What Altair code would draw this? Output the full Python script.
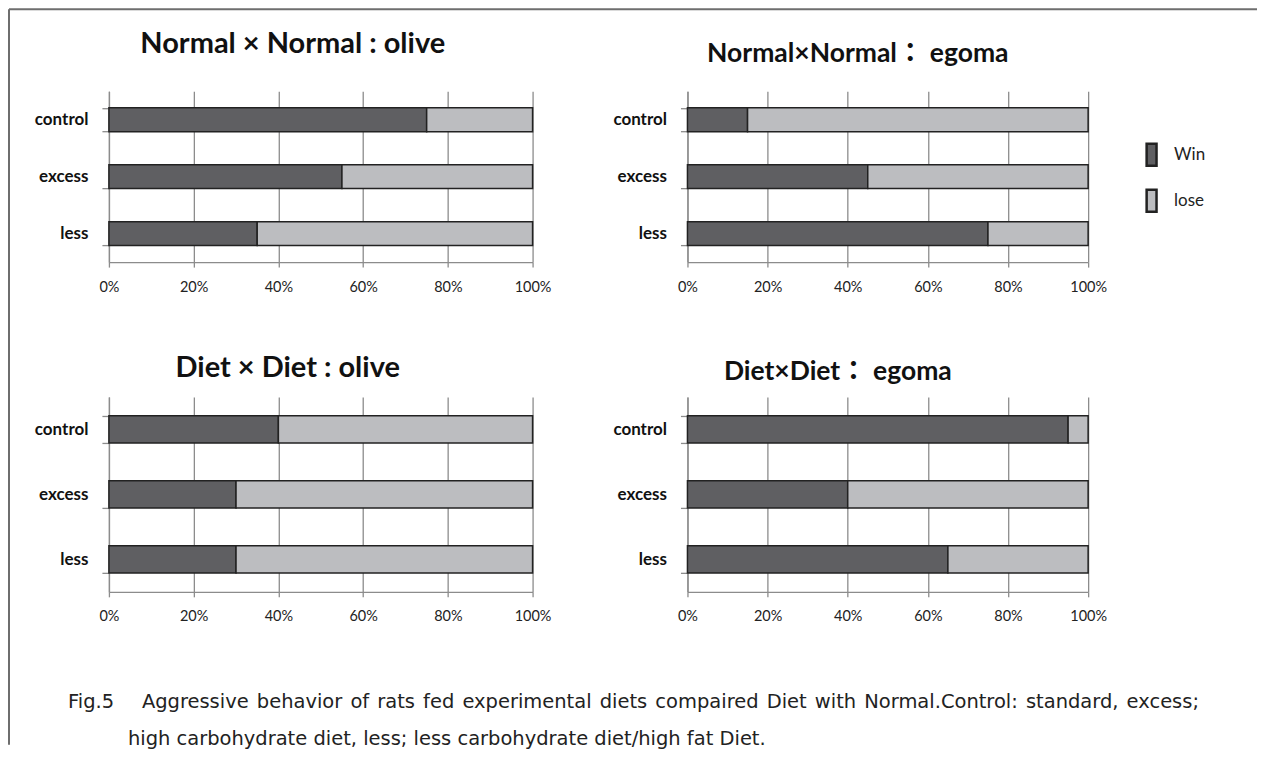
import altair as alt
import pandas as pd

# ---------------- data ----------------
groups = ["control", "excess", "less"]
outcomes = ["Win", "lose"]

nn_olive_win = [75, 55, 35]
nn_olive_lose = [25, 45, 65]
nn_egoma_win = [15, 45, 75]
nn_egoma_lose = [85, 55, 25]
dd_olive_win = [40, 30, 30]
dd_olive_lose = [60, 70, 70]
dd_egoma_win = [95, 40, 65]
dd_egoma_lose = [5, 60, 35]

panel_titles = [
    "Normal × Normal : olive",
    "Normal×Normal：  egoma",
    "Diet × Diet : olive",
    "Diet×Diet：  egoma",
]
tick_values = [0, 20, 40, 60, 80, 100]

caption_fig = "Fig.5"
caption_line1 = ("Aggressive behavior of rats fed experimental diets compaired Diet "
                 "with Normal.Control: standard, excess;")
caption_line2 = "high carbohydrate diet, less; less carbohydrate diet/high fat Diet."

# ---------------- style ----------------
WIN_COLOR = "#5f5f62"
LOSE_COLOR = "#bcbdc0"
GRID = "#8c8c8c"
BOLD = "Lato, 'Noto Sans CJK JP', sans-serif"
REG = "Lato, sans-serif"
CAP_FONT = "'DejaVu Sans', sans-serif"
CAP_SIZE = 19.5


def frame(win, lose):
    rows = []
    for g, w, l in zip(groups, win, lose):
        rows.append({"group": g, "outcome": outcomes[0], "pct": w, "rank": 0})
        rows.append({"group": g, "outcome": outcomes[1], "pct": l, "rank": 1})
    return pd.DataFrame(rows)


legend = alt.Legend(
    orient="none", legendX=1031, legendY=51, title=None,
    symbolType="M-0.45,-1L0.45,-1L0.45,1L-0.45,1Z", symbolSize=484,
    symbolStrokeColor="#222", symbolStrokeWidth=2.5, symbolOpacity=1,
    labelFont=REG, labelFontSize=17, labelColor="#222",
    labelOffset=10, rowPadding=13, padding=0,
)


def panel(win, lose, title, tsize, tdx, tdy, width, height):
    return alt.Chart(frame(win, lose)).mark_bar(
        stroke="#222", strokeWidth=1.5
    ).encode(
        x=alt.X(
            "pct:Q", stack="zero",
            scale=alt.Scale(domain=[0, 100], nice=False),
            axis=alt.Axis(
                values=tick_values, labelExpr="datum.value + '%'", title=None,
                grid=True, gridColor=GRID, gridWidth=1.3,
                domainColor=GRID, domainWidth=1.3,
                tickColor=GRID, tickWidth=1.3, tickSize=5, labelFlush=False,
                labelFont=REG, labelFontSize=14.5, labelColor="#222", labelPadding=13,
            ),
        ),
        y=alt.Y(
            "group:N", sort=groups,
            scale=alt.Scale(paddingInner=0.58, paddingOuter=0.29),
            axis=alt.Axis(
                title=None, tickBand="extent", tickSize=7,
                tickColor=GRID, tickWidth=1.3, domainColor=GRID, domainWidth=1.3,
                labelFont=BOLD, labelFontWeight="bold", labelFontSize=17,
                labelColor="#111", labelPadding=14,
            ),
        ),
        color=alt.Color(
            "outcome:N",
            scale=alt.Scale(domain=outcomes, range=[WIN_COLOR, LOSE_COLOR]),
            legend=legend,
        ),
        order=alt.Order("rank:Q"),
    ).properties(
        width=width, height=height,
        title=alt.TitleParams(
            title, fontSize=tsize, font=BOLD, fontWeight="bold", color="#111",
            dx=tdx, dy=tdy, offset=0, frame="group", anchor="middle",
            baseline="alphabetic",
        ),
    )


p1 = panel(nn_olive_win, nn_olive_lose, panel_titles[0], 29, -28, 0, 424, 171)
p2 = panel(nn_egoma_win, nn_egoma_lose, panel_titles[1], 26.5, -30, 6, 401, 171)
p3 = panel(dd_olive_win, dd_olive_lose, panel_titles[2], 29, -33, 18, 424, 195)
p4 = panel(dd_egoma_win, dd_egoma_lose, panel_titles[3], 26.5, -50, 19, 401, 195)

line1_spaced = caption_line1.replace(" ", " \u200a")

base = alt.Chart(pd.DataFrame({"k": [0]}))
fig_txt = base.mark_text(
    align="left", baseline="middle", font=CAP_FONT, fontSize=CAP_SIZE, color="#222"
).encode(x=alt.value(-41), y=alt.value(-25), text=alt.value(caption_fig))
line1_txt = base.mark_text(
    align="left", baseline="middle", font=CAP_FONT, fontSize=CAP_SIZE, color="#222"
).encode(x=alt.value(33), y=alt.value(-25), text=alt.value(line1_spaced))
line2_txt = base.mark_text(
    align="left", baseline="middle", font=CAP_FONT, fontSize=CAP_SIZE, color="#222"
).encode(x=alt.value(19), y=alt.value(12), text=alt.value(caption_line2))
border_left = base.mark_rule(color="#6e6e6e", strokeWidth=2).encode(
    x=alt.value(-100), y=alt.value(-718), y2=alt.value(18)
)
border_top = base.mark_rule(color="#6e6e6e", strokeWidth=2).encode(
    x=alt.value(-100), x2=alt.value(1149), y=alt.value(-718)
)
caption = alt.layer(border_left, border_top, fig_txt, line1_txt, line2_txt).properties(
    width=10, height=10
)

chart = alt.concat(
    p1, p2, p3, p4, caption, columns=2, bounds="flush",
    spacing={"row": 135, "column": 155},
).configure_view(stroke=None).properties(padding=0, background="white")

chart.save("out.html", embed_options={"renderer": "svg", "actions": False})
